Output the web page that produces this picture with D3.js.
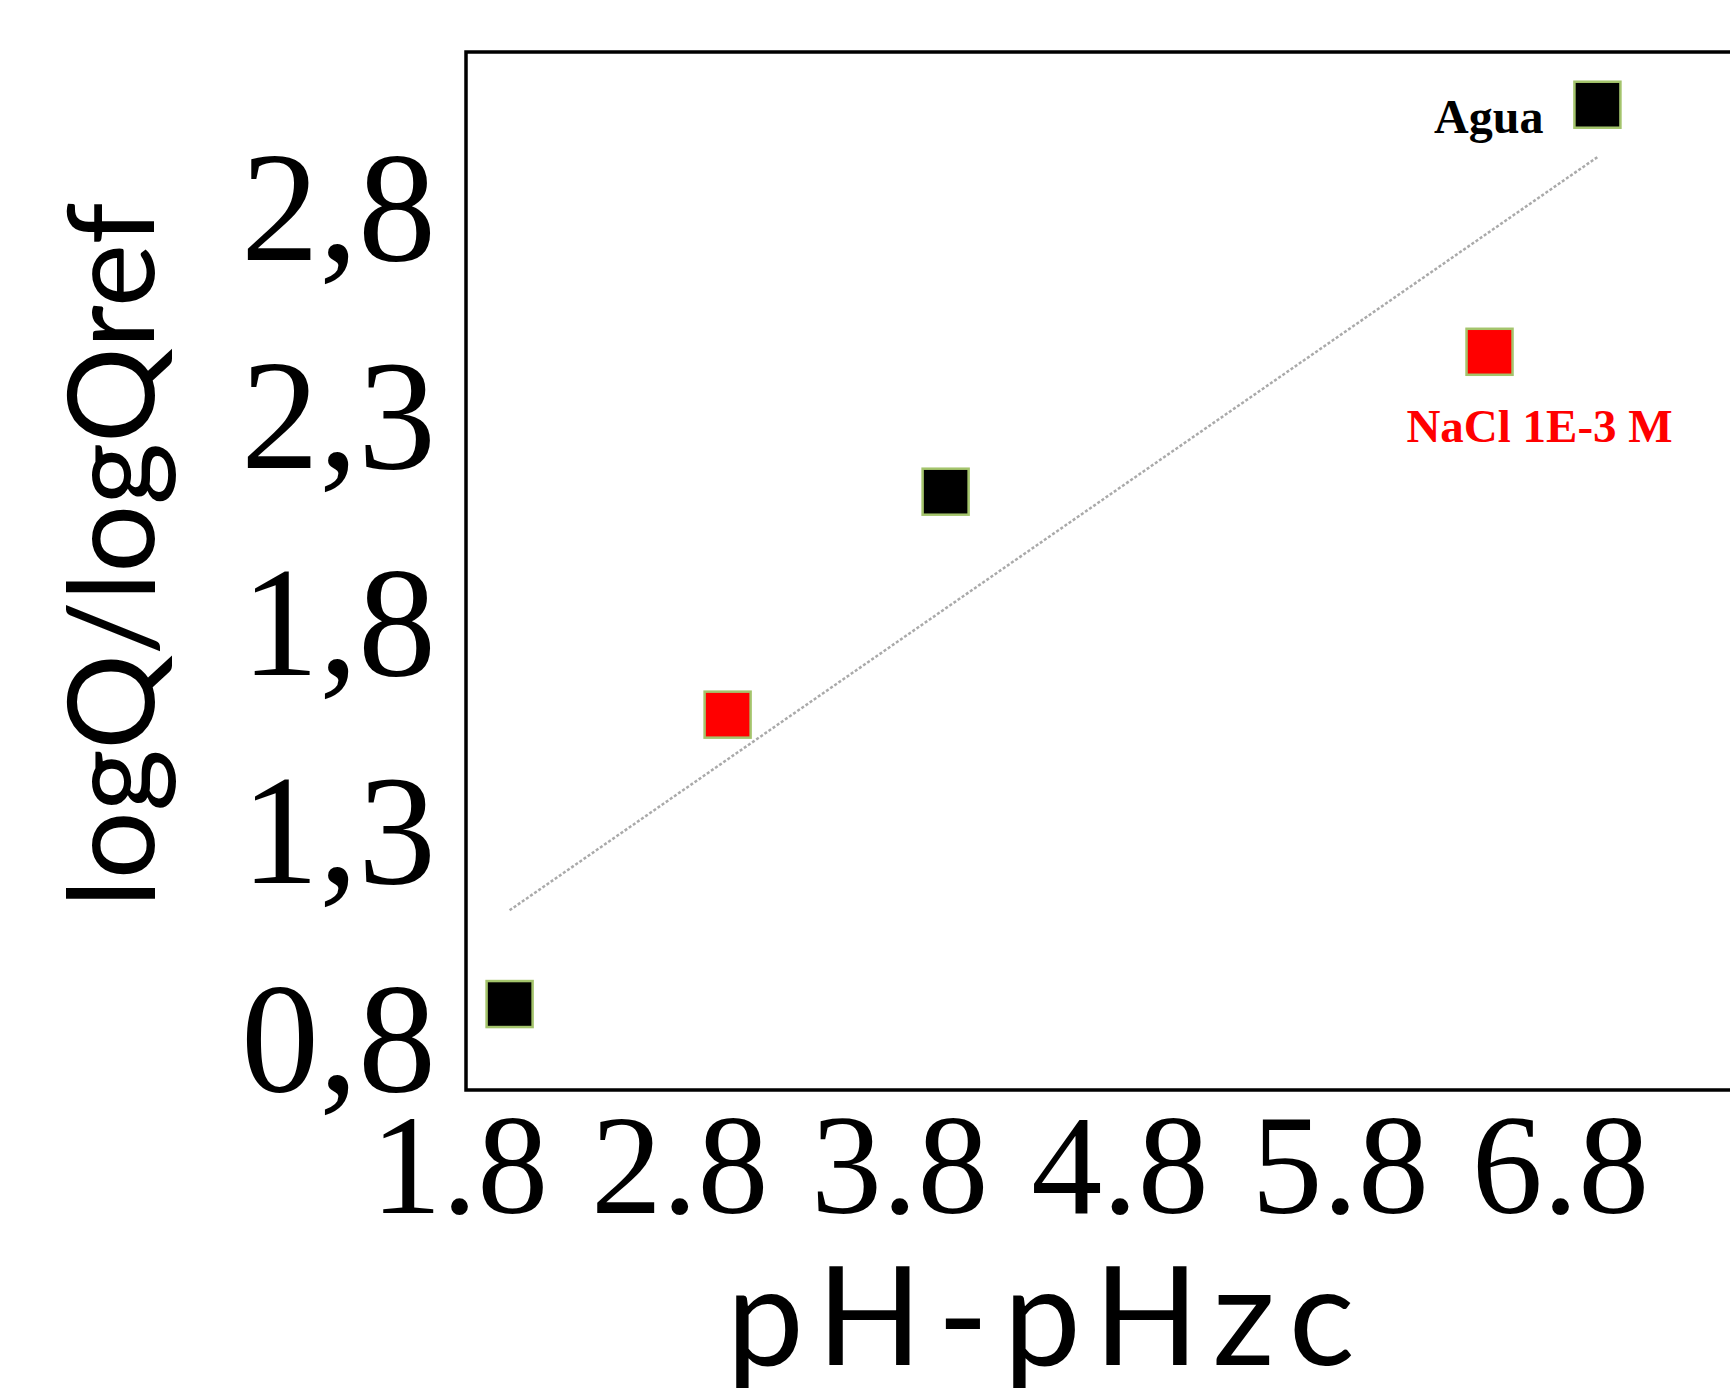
<!DOCTYPE html>
<html>
<head>
<meta charset="utf-8">
<script src="https://cdn.jsdelivr.net/npm/d3@7"></script>
<style>
  body { margin: 0; background: #fff; }
  svg { display: block; }
</style>
</head>
<body>
<div id="chart"></div>
<script>
// data
var aguaX = [2.03, 4.01, 6.97];
var aguaY = [0.887, 2.121, 3.053];
var naclX = [3.02, 6.48];
var naclY = [1.584, 2.458];
var xTicks = [1.8, 2.8, 3.8, 4.8, 5.8, 6.8];
var yTicks = [0.8, 1.3, 1.8, 2.3, 2.8];

var W = 1730, H = 1388;
var plotLeft = 466, plotTop = 52, plotBottom = 1090;

var svg = d3.select("#chart").append("svg")
	.attr("width", W)
	.attr("height", H);

svg.append("rect").attr("width", W).attr("height", H).attr("fill", "#fff");

var x = d3.scaleLinear().domain([1.832, 7.572]).range([plotLeft, W]);
var y = d3.scaleLinear().domain([0.68, 3.18]).range([plotBottom, plotTop]);

// frame (right side runs off the picture)
svg.append("path")
	.attr("d", "M" + W + "," + plotTop + "H" + plotLeft + "V" + plotBottom + "H" + W)
	.attr("fill", "none")
	.attr("stroke", "#000")
	.attr("stroke-width", 3.5);

// y axis
var yAxis = svg.append("g")
	.attr("transform", "translate(" + plotLeft + ",0)")
	.call(d3.axisLeft(y).tickValues(yTicks).tickSize(0).tickPadding(30)
		.tickFormat(function(d) { return d3.format(".1f")(d).replace(".", ","); }));
yAxis.select(".domain").remove();
yAxis.selectAll("text")
	.style("font-family", "'Liberation Serif', serif")
	.style("font-size", "156px")
	.attr("fill", "#000");

// x axis
var xAxis = svg.append("g")
	.attr("transform", "translate(0," + plotBottom + ")")
	.call(d3.axisBottom(x).tickValues(xTicks).tickSize(0).tickPadding(22)
		.tickFormat(d3.format(".1f")));
xAxis.select(".domain").remove();
xAxis.selectAll("text")
	.style("font-family", "'Liberation Serif', serif")
	.style("font-size", "142px")
	.attr("fill", "#000");

// axis titles
svg.append("text")
	.attr("transform", "translate(154,555) rotate(-90)")
	.attr("text-anchor", "middle")
	.style("font-family", "Lato, sans-serif")
	.style("font-size", "120px")
	.text("logQ/logQref");

svg.append("text")
	.attr("x", 1048)
	.attr("y", 1365)
	.attr("text-anchor", "middle")
	.style("font-family", "Lato, sans-serif")
	.style("font-size", "138px")
	.style("letter-spacing", "15px")
	.text("pH-pHzc");

// linear trendline over all points
var allX = aguaX.concat(naclX), allY = aguaY.concat(naclY);
var mx = d3.mean(allX), my = d3.mean(allY);
var sxy = d3.sum(allX, function(v, i) { return (v - mx) * (allY[i] - my); });
var sxx = d3.sum(allX, function(v) { return (v - mx) * (v - mx); });
var slope = sxy / sxx, icpt = my - slope * mx;
var x0 = d3.min(allX), x1 = d3.max(allX);

svg.append("line")
	.attr("x1", x(x0)).attr("y1", y(icpt + slope * x0))
	.attr("x2", x(x1)).attr("y2", y(icpt + slope * x1))
	.attr("stroke", "#aaa")
	.attr("stroke-width", 2.5)
	.attr("stroke-dasharray", "3,2");

// markers
function drawSquares(xs, ys, color) {
	svg.selectAll(null)
		.data(xs)
		.enter().append("rect")
		.attr("x", function(d) { return x(d) - 23; })
		.attr("y", function(d, i) { return y(ys[i]) - 23; })
		.attr("width", 46)
		.attr("height", 46)
		.attr("fill", color)
		.attr("stroke", "#a4c46c")
		.attr("stroke-width", 2.5);
}
drawSquares(aguaX, aguaY, "#000");
drawSquares(naclX, naclY, "#ff0000");

// series labels
svg.append("text")
	.attr("x", x(aguaX[2]) - 54)
	.attr("y", y(aguaY[2]) + 28)
	.attr("text-anchor", "end")
	.style("font-family", "'Liberation Serif', serif")
	.style("font-weight", "bold")
	.style("font-size", "48px")
	.attr("fill", "#000")
	.text("Agua");

svg.append("text")
	.attr("x", x(naclX[1]) + 50)
	.attr("y", y(naclY[1]) + 90)
	.attr("text-anchor", "middle")
	.style("font-family", "'Liberation Serif', serif")
	.style("font-weight", "bold")
	.style("font-size", "47px")
	.attr("fill", "#ff0000")
	.text("NaCl 1E-3 M");
</script>
</body>
</html>
